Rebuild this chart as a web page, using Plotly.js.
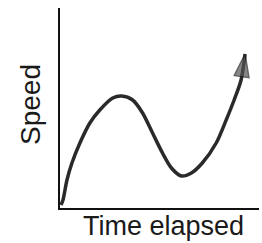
<!DOCTYPE html>
<html><head><meta charset="utf-8">
<script src="https://cdn.plot.ly/plotly-3.0.1.min.js"></script>
<style>html,body{margin:0;padding:0;background:#fff}#chart{width:262px;height:243px}</style>
</head><body><div id="chart"></div>
<script>
// Sketched curve (time, speed) on a 0-10 scale
const timeElapsed = [0.05, 0.15, 0.35, 0.6, 1.0, 1.5, 2.0, 2.65, 3.1, 3.65, 4.15, 4.65, 5.15, 5.6, 6.1, 6.6, 7.15, 7.85, 8.35, 8.75, 9.1, 9.3];
const speed       = [0.15, 0.4, 1.4, 2.25, 3.25, 4.25, 4.9, 5.5, 5.6, 5.4, 4.75, 3.75, 2.75, 2.0, 1.6, 1.75, 2.25, 3.25, 4.4, 5.4, 6.4, 7.7];
const xLabel = "Time elapsed";
const yLabel = "Speed";

const n = timeElapsed.length;
const trace = {
  x: timeElapsed, y: speed, type: 'scatter', mode: 'lines+markers',
  line: {color: '#2a2a2a', width: 3.5, shape: 'spline', smoothing: 0.8},
  marker: {
    symbol: timeElapsed.map((_, i) => i === n - 1 ? 'arrow' : 'circle'),
    size: timeElapsed.map((_, i) => i === n - 1 ? 24 : 0),
    angleref: 'previous',
    color: '#555',
    line: {width: 1.5, color: '#222'}
  },
  hoverinfo: 'skip'
};
const axisBase = {showgrid: false, zeroline: false, showticklabels: false, ticks: '',
  showline: true, linecolor: '#111', linewidth: 2, fixedrange: true};
const labelFont = {family: 'Liberation Sans, Arial, sans-serif', size: 28, color: '#1a1a1a'};
const layout = {
  width: 262, height: 243,
  margin: {l: 60, r: 3, t: 8, b: 35},
  paper_bgcolor: '#fff', plot_bgcolor: '#fff',
  showlegend: false,
  font: {family: 'Liberation Sans, Arial, sans-serif', color: '#1a1a1a'},
  xaxis: Object.assign({}, axisBase, {range: [0, 10]}),
  yaxis: Object.assign({}, axisBase, {range: [0, 10]}),
  annotations: [
    {text: xLabel, xref: 'paper', yref: 'paper', x: 0.52, y: 0, xanchor: 'center', yanchor: 'top',
     yshift: -1, showarrow: false, font: Object.assign({}, labelFont, {size: 27})},
    {text: yLabel, xref: 'paper', yref: 'paper', x: 0, y: 0.5, xanchor: 'center', yanchor: 'middle',
     xshift: -30, yshift: 3, textangle: -90, showarrow: false, font: labelFont}
  ]
};
Plotly.newPlot('chart', [trace], layout, {displayModeBar: false, staticPlot: true});
</script></body></html>
